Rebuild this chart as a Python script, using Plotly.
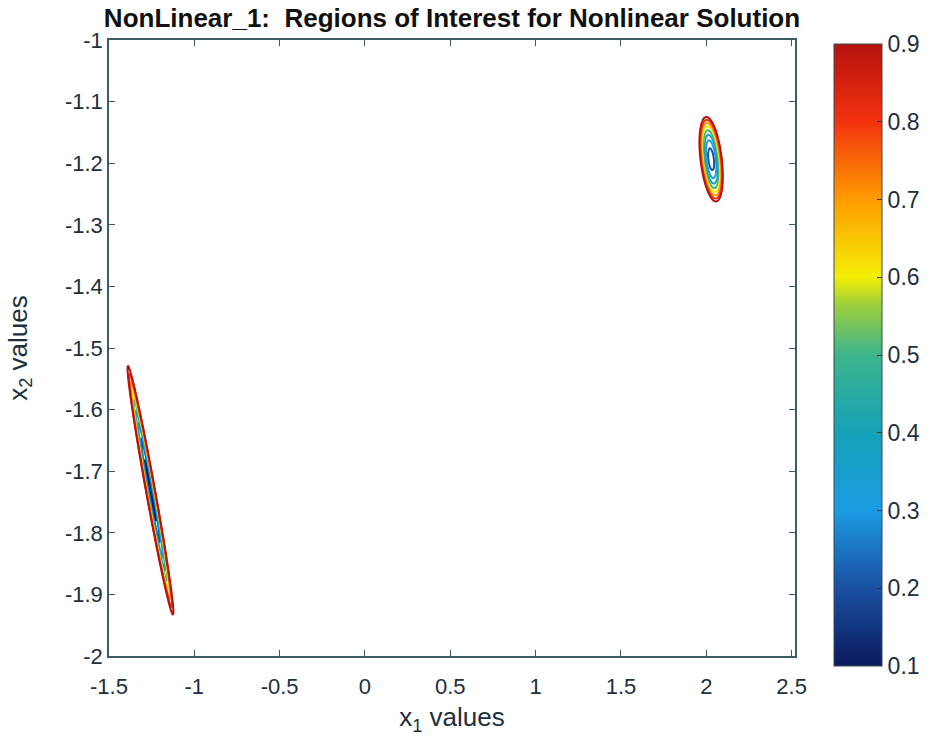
import numpy as np
import plotly.graph_objects as go

# ---- data ----
# each region of interest: endpoints of its long axis (x1, x2), minor/major ratio,
# value at its centre and value on its boundary
axis_top_x1 = [1.999, -1.389]
axis_top_x2 = [-1.125, -1.529]
axis_bot_x1 = [2.058, -1.125]
axis_bot_x2 = [-1.262, -1.933]
minor_ratio = [0.25, 0.036]
center_value = [0.15, 0.05]
edge_value = [0.9, 0.9]
levels = [0.1, 0.2, 0.3, 0.4, 0.5, 0.6, 0.7, 0.8, 0.9]
x_ticks = [-1.5, -1, -0.5, 0, 0.5, 1, 1.5, 2, 2.5]
y_ticks = [-1, -1.1, -1.2, -1.3, -1.4, -1.5, -1.6, -1.7, -1.8, -1.9, -2]
cbar_ticks = [0.1, 0.2, 0.3, 0.4, 0.5, 0.6, 0.7, 0.8, 0.9]

x_range = [-1.5, 2.52]
y_range = [-2.0, -1.0]

colorscale = [
    [0.000, "#0b1a5e"],
    [0.125, "#1a4fa0"],
    [0.250, "#1c9be3"],
    [0.375, "#16a2b8"],
    [0.500, "#3cb48c"],
    [0.580, "#9ccf3c"],
    [0.625, "#f4ee05"],
    [0.750, "#ff9c00"],
    [0.875, "#f3320f"],
    [1.000, "#b5120e"],
]

W, H = 930, 744
ml, mr, mt, mb = 109, 135, 40, 88
pw, ph = W - ml - mr, H - mt - mb
sx = pw / (x_range[1] - x_range[0])
sy = ph / (y_range[1] - y_range[0])

FONT = "Liberation Sans, Arial"
TXT = "#1e2f3d"

fig = go.Figure()

for i in range(len(axis_top_x1)):
    cx = (axis_top_x1[i] + axis_bot_x1[i]) / 2
    cy = (axis_top_x2[i] + axis_bot_x2[i]) / 2
    dxp = (axis_top_x1[i] - axis_bot_x1[i]) * sx
    dyp = (axis_top_x2[i] - axis_bot_x2[i]) * sy
    a = np.hypot(dxp, dyp) / 2
    b = a * minor_ratio[i]
    ang = np.arctan2(dyp, dxp)
    ext = a * 1.15
    gx = np.linspace(cx - ext / sx, cx + ext / sx, 400)
    gy = np.linspace(cy - ext / sy, cy + ext / sy, 400)
    X, Y = np.meshgrid(gx, gy)
    px = (X - cx) * sx
    py = (Y - cy) * sy
    u = px * np.cos(ang) + py * np.sin(ang)
    v = -px * np.sin(ang) + py * np.cos(ang)
    r2 = (u / a) ** 2 + (v / b) ** 2
    Z = center_value[i] + (edge_value[i] - center_value[i]) * r2
    fig.add_trace(go.Contour(
        x=gx, y=gy, z=Z,
        zmin=levels[0], zmax=levels[-1],
        contours=dict(start=levels[0], end=levels[-1], size=0.1, coloring="lines"),
        colorscale=colorscale,
        line=dict(width=2),
        showscale=False,
        hoverinfo="skip",
    ))

# continuous colorbar
fig.add_trace(go.Scatter(
    x=[-10, -10], y=[-10, -10], mode="markers",
    marker=dict(
        size=0, opacity=0,
        color=[cbar_ticks[0], cbar_ticks[-1]],
        cmin=cbar_ticks[0], cmax=cbar_ticks[-1],
        colorscale=colorscale,
        showscale=True,
        colorbar=dict(
            x=(834 - ml) / pw, xanchor="left", xpad=0, ypad=0,
            y=(mt + ph - 44) / ph, yanchor="top",
            len=(666 - 44) / ph, lenmode="fraction",
            thickness=48,
            outlinewidth=1, outlinecolor="#3a4a55",
            tickvals=cbar_ticks,
            ticktext=[str(t) for t in cbar_ticks],
            ticks="inside", ticklen=5, tickcolor="#333",
            tickfont=dict(family=FONT, size=23, color=TXT),
        ),
    ),
    showlegend=False, hoverinfo="skip",
))

axis_common = dict(
    showgrid=False, zeroline=False, showline=True, linecolor="#3d5a66", linewidth=1.5,
    mirror="ticks", ticks="inside", ticklen=6, tickcolor="#3d5a66",
    tickfont=dict(family=FONT, size=22, color=TXT),
)

fig.update_layout(
    width=W, height=H,
    margin=dict(l=ml, r=mr, t=mt, b=mb, autoexpand=False),
    paper_bgcolor="white", plot_bgcolor="white",
    showlegend=False,
    title=dict(
        text="<b>NonLinear_1:  Regions of Interest for Nonlinear Solution</b>",
        x=(ml + pw / 2) / W, xanchor="center", y=1 - 18 / H, yanchor="middle",
        font=dict(family=FONT, size=26, color="#111"),
    ),
    xaxis=dict(range=x_range, tickvals=x_ticks, ticktext=[str(t) for t in x_ticks],
               ticklabelstandoff=10,
               title=dict(text="x<sub>1</sub> values", standoff=10,
                          font=dict(family=FONT, size=26, color=TXT)),
               **axis_common),
    yaxis=dict(range=y_range, tickvals=y_ticks, ticktext=[str(t) for t in y_ticks],
               title=dict(text="x<sub>2</sub> values", standoff=30,
                          font=dict(family=FONT, size=26, color=TXT)),
               **axis_common),
)

fig.write_html("out.html", config={"displayModeBar": False},
               post_script="document.body.style.margin='0';")
